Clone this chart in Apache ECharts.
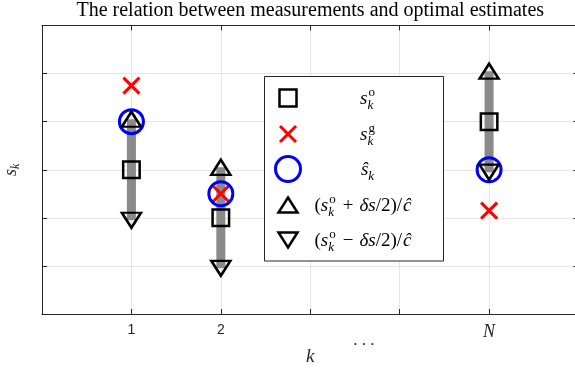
<!DOCTYPE html>
<html>
<head>
<meta charset="utf-8">
<script src="https://cdn.jsdelivr.net/npm/echarts@6/dist/echarts.min.js"></script>
<style>
  html, body { margin: 0; padding: 0; background: #fff; }
  #chart { width: 575px; height: 368px; }
</style>
</head>
<body>
<div id="chart"></div>
<script>
// Sample positions along k and their tick labels
const kPositions = [1, 2, 5];
const kTickLabels = { 1: '1', 2: '2', 5: 'N' };
const dotsPosition = 3.6;

// Values per sample k
const measuredValues = [3.0, 2.0, 4.0];     // s_k^o
const guessedValues = [4.75, 2.5, 2.15];    // s_k^g
const estimatedValues = [4.0, 2.5, 3.0];    // ŝ_k
const upperValues = [4.05, 3.05, 5.05];     // (s_k^o + δs/2)/ĉ
const lowerValues = [1.95, 0.95, 2.95];     // (s_k^o − δs/2)/ĉ

const SERIF = '"Liberation Serif", "DejaVu Serif", serif';
const SANS = '"Liberation Sans", Arial, sans-serif';
const AXIS_COLOR = '#262626';
const GRID_COLOR = '#e6e6e6';

const pairs = vals => kPositions.map((k, i) => [k, vals[i]]);

// Compose a math-like label out of text pieces (main glyphs, stacked sup/sub scripts)
const measureCtx = document.createElement('canvas').getContext('2d');
function fontOf(italic, size) { return (italic ? 'italic ' : '') + size + 'px ' + SERIF; }
function textWidth(t, italic, size) { measureCtx.font = fontOf(italic, size); return measureCtx.measureText(t).width; }
const MAIN_SIZE = 19, SCRIPT_SIZE = 13, SUP_SHIFT = 8, SUB_SHIFT = 5;
function mathLabel(parts, cx, baseline) {
  const items = [];
  let width = 0;
  parts.forEach(p => {
    width += p.gap || 0;
    if (p.t !== undefined) {
      items.push({ x: width, t: p.t, it: !!p.it, size: MAIN_SIZE, dy: 0 });
      width += textWidth(p.t, !!p.it, MAIN_SIZE);
    } else {
      let adv = 0;
      if (p.sup) { items.push({ x: width + 1, t: p.sup, it: false, size: SCRIPT_SIZE, dy: -SUP_SHIFT }); adv = Math.max(adv, textWidth(p.sup, false, SCRIPT_SIZE) + 1); }
      if (p.sub) { items.push({ x: width, t: p.sub, it: true, size: SCRIPT_SIZE, dy: SUB_SHIFT }); adv = Math.max(adv, textWidth(p.sub, true, SCRIPT_SIZE)); }
      width += adv;
    }
  });
  const x0 = cx - width / 2;
  return items.map(it => ({
    type: 'text', x: x0 + it.x, y: baseline + it.dy - 0.3 * it.size, z: 110,
    style: { text: it.t, font: fontOf(it.it, it.size), fill: '#000', align: 'left', verticalAlign: 'middle' }
  }));
}

const legendLabels = [
  [{ t: 's', it: true }, { sup: 'o', sub: 'k' }],
  [{ t: 's', it: true }, { sup: 'g', sub: 'k' }],
  [{ t: 'ŝ', it: true }, { sub: 'k' }],
  [{ t: '(' }, { t: 's', it: true }, { sup: 'o', sub: 'k' }, { t: '+', gap: 7 }, { t: 'δs', it: true, gap: 6 }, { t: '/2)/' }, { t: 'ĉ', it: true, gap: 1 }],
  [{ t: '(' }, { t: 's', it: true }, { sup: 'o', sub: 'k' }, { t: '−', gap: 7 }, { t: 'δs', it: true, gap: 6 }, { t: '/2)/' }, { t: 'ĉ', it: true, gap: 1 }]
];
const legendLabelCenters = [367.5, 367.5, 367.5, 363, 363];

// Legend icons drawn with the same styles as the series markers
function legendIcon(kind, x, y) {
  const s = { fill: 'none', lineWidth: 2.5, stroke: '#000', lineJoin: 'miter' };
  const red = { stroke: '#ff0000', lineWidth: 3 };
  switch (kind) {
    case 'square': return [{ type: 'rect', shape: { x: x - 8.5, y: y - 8.5, width: 17, height: 17 }, style: s, z: 110 }];
    case 'cross': return [
      { type: 'line', shape: { x1: x - 8, y1: y - 8, x2: x + 8, y2: y + 8 }, style: red, z: 110 },
      { type: 'line', shape: { x1: x + 8, y1: y - 8, x2: x - 8, y2: y + 8 }, style: red, z: 110 }];
    case 'circle': return [{ type: 'circle', shape: { cx: x, cy: y, r: 12.5 }, style: { fill: 'none', stroke: '#0000ff', lineWidth: 3 }, z: 110 }];
    case 'up': return [{ type: 'polygon', shape: { points: [[x, y - 7.5], [x + 9.5, y + 7.5], [x - 9.5, y + 7.5]] }, style: s, z: 110 }];
    case 'down': return [{ type: 'polygon', shape: { points: [[x, y + 7.5], [x + 9.5, y - 7.5], [x - 9.5, y - 7.5]] }, style: s, z: 110 }];
  }
}
const legendKinds = ['square', 'cross', 'circle', 'up', 'down'];
const legendRowsY = [98, 134, 169, 205, 240];

const legendElements = [
  { type: 'rect', shape: { x: 264.5, y: 76.5, width: 179, height: 184.5 }, style: { fill: '#fff', stroke: AXIS_COLOR, lineWidth: 1 }, z: 100 }
];
legendKinds.forEach((kind, i) => {
  legendElements.push(...legendIcon(kind, 288, legendRowsY[i]));
  legendElements.push(...mathLabel(legendLabels[i], legendLabelCenters[i], legendRowsY[i] + 6.5));
});

const chart = echarts.init(document.getElementById('chart'), null, { renderer: 'canvas' });

const markerBase = { type: 'scatter', silent: true, z: 3 };
const axisLineStyle = () => ({ show: true, onZero: false, lineStyle: { color: AXIS_COLOR, width: 1 } });
const insideTicks = () => ({ show: true, inside: true, length: 5, lineStyle: { color: AXIS_COLOR } });

chart.setOption({
  animation: false,
  backgroundColor: '#fff',
  grid: { left: 42, top: 25.5, right: -3.5, bottom: 54, containLabel: false, outerBoundsMode: 'none' },
  xAxis: [{
    type: 'value', min: 0, max: 6, interval: 1, position: 'bottom',
    axisLine: axisLineStyle(), axisTick: insideTicks(),
    axisLabel: {
      margin: 9,
      formatter: v => kTickLabels[v] ? (v === 5 ? '{n|' + kTickLabels[v] + '}' : '{d|' + kTickLabels[v] + '}') : '',
      rich: {
        d: { fontFamily: SANS, fontSize: 14, color: '#262626' },
        n: { fontFamily: SERIF, fontStyle: 'italic', fontSize: 18, color: '#262626' }
      }
    },
    splitLine: { show: true, lineStyle: { color: GRID_COLOR, width: 1 } },
    name: 'k', nameLocation: 'middle', nameGap: 33,
    nameTextStyle: { fontFamily: SERIF, fontStyle: 'italic', fontSize: 19, color: '#262626' }
  }, {
    type: 'value', min: 0, max: 6, interval: 1, position: 'top',
    axisLine: axisLineStyle(), axisTick: insideTicks(),
    axisLabel: { show: false }, splitLine: { show: false }
  }],
  yAxis: [{
    type: 'value', min: 0, max: 6, interval: 1, position: 'left',
    axisLine: axisLineStyle(), axisTick: insideTicks(),
    axisLabel: { show: false },
    splitLine: { show: true, lineStyle: { color: GRID_COLOR, width: 1 } },
    name: '{s|s}{k|k}', nameLocation: 'middle', nameGap: 20, nameRotate: 90,
    nameTextStyle: {
      rich: {
        s: { fontFamily: SERIF, fontStyle: 'italic', fontSize: 18, color: '#262626', verticalAlign: 'top' },
        k: { fontFamily: SERIF, fontStyle: 'italic', fontSize: 12, color: '#262626', verticalAlign: 'bottom', padding: [8, 0, 0, 0] }
      }
    }
  }, {
    type: 'value', min: 0, max: 6, interval: 1, position: 'right',
    axisLine: axisLineStyle(), axisTick: insideTicks(),
    axisLabel: { show: false }, splitLine: { show: false }
  }],
  series: [
    {
      type: 'custom', silent: true, z: 2,
      data: kPositions.map((k, i) => [k, lowerValues[i], upperValues[i]]),
      encode: { x: 0, y: [1, 2] },
      renderItem: (params, api) => {
        const top = api.coord([api.value(0), api.value(2)]);
        const bottom = api.coord([api.value(0), api.value(1)]);
        return { type: 'rect', shape: { x: top[0] - 4.5, y: top[1], width: 9, height: bottom[1] - top[1] }, style: { fill: '#8a8a8a' } };
      }
    },
    Object.assign({}, markerBase, {
      data: pairs(measuredValues), symbol: 'rect', symbolSize: 16.5,
      itemStyle: { color: 'rgba(0,0,0,0)', borderColor: '#000', borderWidth: 2.5, opacity: 1 }
    }),
    Object.assign({}, markerBase, {
      data: pairs(guessedValues), symbol: 'path://M0,0L10,10M10,0L0,10', symbolSize: 16,
      itemStyle: { color: 'rgba(0,0,0,0)', borderColor: '#ff0000', borderWidth: 3, opacity: 1 }
    }),
    Object.assign({}, markerBase, {
      data: pairs(estimatedValues), symbol: 'circle', symbolSize: 24,
      itemStyle: { color: 'rgba(0,0,0,0)', borderColor: '#0000ff', borderWidth: 3, opacity: 1 }
    }),
    Object.assign({}, markerBase, {
      data: pairs(upperValues), symbol: 'triangle', symbolSize: [19, 15],
      itemStyle: { color: 'rgba(0,0,0,0)', borderColor: '#000', borderWidth: 2.5, opacity: 1 }
    }),
    Object.assign({}, markerBase, {
      data: pairs(lowerValues), symbol: 'triangle', symbolSize: [19, 15], symbolRotate: 180,
      itemStyle: { color: 'rgba(0,0,0,0)', borderColor: '#000', borderWidth: 2.5, opacity: 1 }
    })
  ]
});

// Title, ellipsis tick text and legend
const plotLeft = chart.convertToPixel({ xAxisIndex: 0 }, 0);
const plotRight = chart.convertToPixel({ xAxisIndex: 0 }, 6);
const dotsX = chart.convertToPixel({ xAxisIndex: 0 }, dotsPosition);
const axisY = chart.convertToPixel({ yAxisIndex: 0 }, 0);

chart.setOption({
  graphic: [
    { type: 'text', x: (plotLeft + plotRight) / 2, y: 10.5, z: 110,
      style: { text: 'The relation between measurements and optimal estimates', font: '20px ' + SERIF, fill: '#000', align: 'center', verticalAlign: 'middle' } },
    { type: 'text', x: dotsX, y: axisY + 26.5, z: 110,
      style: { text: '. . .', font: '17px ' + SERIF, fill: '#262626', align: 'center', verticalAlign: 'middle' } },
    ...legendElements
  ]
});
</script>
</body>
</html>
